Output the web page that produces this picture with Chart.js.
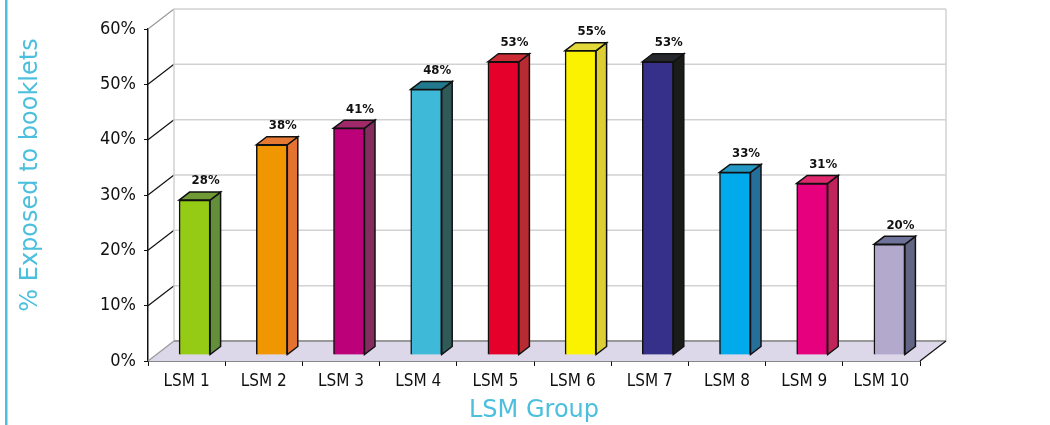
<!DOCTYPE html>
<html>
<head>
<meta charset="utf-8">
<title>LSM Group</title>
<script src="https://cdn.jsdelivr.net/npm/chart.js@4"></script>
<style>
  html, body { margin: 0; padding: 0; background: #fff; }
  canvas { display: block; }
</style>
</head>
<body>
<canvas id="lsmChart" width="1050" height="425"></canvas>
<script>
const groups = ['LSM 1', 'LSM 2', 'LSM 3', 'LSM 4', 'LSM 5', 'LSM 6', 'LSM 7', 'LSM 8', 'LSM 9', 'LSM 10'];
const exposed = [28, 38, 41, 48, 53, 55, 53, 33, 31, 20];
const frontColors = ['#95cb14', '#f09600', '#bc007a', '#3fb9d8', '#e4002b', '#fbf200', '#37308a', '#00aaeb', '#e6007e', '#b3a9cc'];
const sideColors = ['#638f3b', '#e47230', '#832c5d', '#2f5a58', '#b92b33', '#dccf35', '#1a1c1a', '#266f9a', '#c1245a', '#626684'];
const topColors = ['#6f9a35', '#e67a35', '#a0296a', '#22788c', '#cb2c36', '#e3d83a', '#25282c', '#2597c4', '#e0286e', '#6f7399'];

const AQUA = '#4bbfdd';
const WALL = '#d2d2d2';
// wall depth and the offset of the bars inside it
const DEPTH_X = 26, DEPTH_Y = 20;
const BAR_SHIFT_X = 8, BAR_SHIFT_Y = 6;
const BAR_DX = 10.5, BAR_DY = 8;

function line(ctx, x1, y1, x2, y2, color, width) {
  ctx.strokeStyle = color;
  ctx.lineWidth = width;
  ctx.beginPath();
  ctx.moveTo(x1, y1);
  ctx.lineTo(x2, y2);
  ctx.stroke();
}

function face(ctx, pts, color) {
  ctx.fillStyle = color;
  ctx.strokeStyle = '#111';
  ctx.lineWidth = 1.5;
  ctx.beginPath();
  pts.forEach((p, i) => i ? ctx.lineTo(p[0], p[1]) : ctx.moveTo(p[0], p[1]));
  ctx.closePath();
  ctx.fill();
  ctx.stroke();
}

// back walls, floor, page rule and the vertical axis caption
const wallsPlugin = {
  id: 'walls',
  beforeDatasetsDraw(chart) {
    const { ctx, chartArea: a, scales: { y } } = chart;
    ctx.save();
    const floorY = y.getPixelForValue(0);

    ctx.fillStyle = AQUA;
    ctx.fillRect(5, 0, 2.5, 425);

    ctx.fillStyle = '#dcd8ea';
    ctx.beginPath();
    ctx.moveTo(a.left, floorY);
    ctx.lineTo(a.right, floorY);
    ctx.lineTo(a.right + DEPTH_X, floorY - DEPTH_Y);
    ctx.lineTo(a.left + DEPTH_X, floorY - DEPTH_Y);
    ctx.closePath();
    ctx.fill();

    y.ticks.forEach(t => {
      const py = y.getPixelForValue(t.value);
      if (t.value > 0) {
        line(ctx, a.left + DEPTH_X, py - DEPTH_Y, a.right + DEPTH_X, py - DEPTH_Y, WALL, 1.5);
        line(ctx, a.left, py, a.left + DEPTH_X, py - DEPTH_Y, t.value === 60 ? '#999' : '#111', 1.2);
      }
    });
    const top = y.getPixelForValue(60) - DEPTH_Y;
    line(ctx, a.left + DEPTH_X, top, a.left + DEPTH_X, floorY - DEPTH_Y, WALL, 1.5);
    line(ctx, a.right + DEPTH_X, top, a.right + DEPTH_X, floorY - DEPTH_Y, WALL, 1.5);
    line(ctx, a.left + DEPTH_X, floorY - DEPTH_Y, a.right + DEPTH_X, floorY - DEPTH_Y, '#999', 2);
    line(ctx, a.left, floorY, a.left + DEPTH_X, floorY - DEPTH_Y, '#999', 1.2);
    line(ctx, a.right, floorY, a.right + DEPTH_X, floorY - DEPTH_Y, '#111', 1.2);

    ctx.translate(31, 175);
    ctx.rotate(-Math.PI / 2);
    ctx.fillStyle = AQUA;
    ctx.font = '24px "DejaVu Sans"';
    ctx.textAlign = 'center';
    ctx.textBaseline = 'middle';
    ctx.fillText('% Exposed to booklets', 0, 0);
    ctx.restore();
  }
};

// side and top faces of the bars; the bars themselves sit a little into the floor
const prismPlugin = {
  id: 'prism',
  beforeDatasetDraw(chart, args) {
    const ctx = chart.ctx;
    ctx.save();
    ctx.translate(BAR_SHIFT_X, -BAR_SHIFT_Y);
    args.meta.data.forEach((bar, i) => {
      const r = bar.x + bar.width / 2, l = bar.x - bar.width / 2;
      face(ctx, [[r, bar.y], [r + BAR_DX, bar.y - BAR_DY], [r + BAR_DX, bar.base - BAR_DY], [r, bar.base]], sideColors[i]);
      face(ctx, [[l, bar.y], [l + BAR_DX, bar.y - BAR_DY], [r + BAR_DX, bar.y - BAR_DY], [r, bar.y]], topColors[i]);
    });
  },
  afterDatasetDraw(chart, args) {
    const ctx = chart.ctx;
    ctx.fillStyle = '#111';
    ctx.font = 'bold 13px "DejaVu Sans Condensed"';
    ctx.textAlign = 'center';
    ctx.textBaseline = 'middle';
    args.meta.data.forEach((bar, i) => {
      ctx.fillText(exposed[i] + '%', bar.x + 11, bar.y - 19);
    });
    ctx.restore();
  }
};

new Chart(document.getElementById('lsmChart').getContext('2d'), {
  type: 'bar',
  data: {
    labels: groups,
    datasets: [{
      label: '% Exposed to booklets',
      data: exposed,
      backgroundColor: frontColors,
      borderColor: '#111',
      borderWidth: 1.5,
      barThickness: 31
    }]
  },
  plugins: [wallsPlugin, prismPlugin],
  options: {
    responsive: false,
    animation: false,
    layout: { padding: { top: 29, right: 130 } },
    plugins: { legend: { display: false }, tooltip: { enabled: false } },
    scales: {
      x: {
        afterFit(scale) { scale.height = 64; },
        grid: { drawOnChartArea: false, drawTicks: true, tickLength: 5, color: '#111' },
        border: { color: '#111', width: 1.5 },
        ticks: { color: '#111', padding: 5, maxRotation: 0, autoSkip: false, font: { family: '"DejaVu Sans Condensed"', size: 17 } },
        title: { display: true, text: 'LSM Group', color: AQUA, padding: { top: 0, bottom: 0 }, font: { family: '"DejaVu Sans"', size: 24 } }
      },
      y: {
        min: 0,
        max: 60,
        afterFit(scale) { scale.width = 148; },
        grid: { drawOnChartArea: false, drawTicks: true, tickLength: 4, color: '#111' },
        border: { color: '#111', width: 1.5 },
        ticks: { stepSize: 10, color: '#111', padding: 8, font: { family: '"DejaVu Sans Condensed"', size: 18 }, callback: v => v + '%' }
      }
    }
  }
});
</script>
</body>
</html>
